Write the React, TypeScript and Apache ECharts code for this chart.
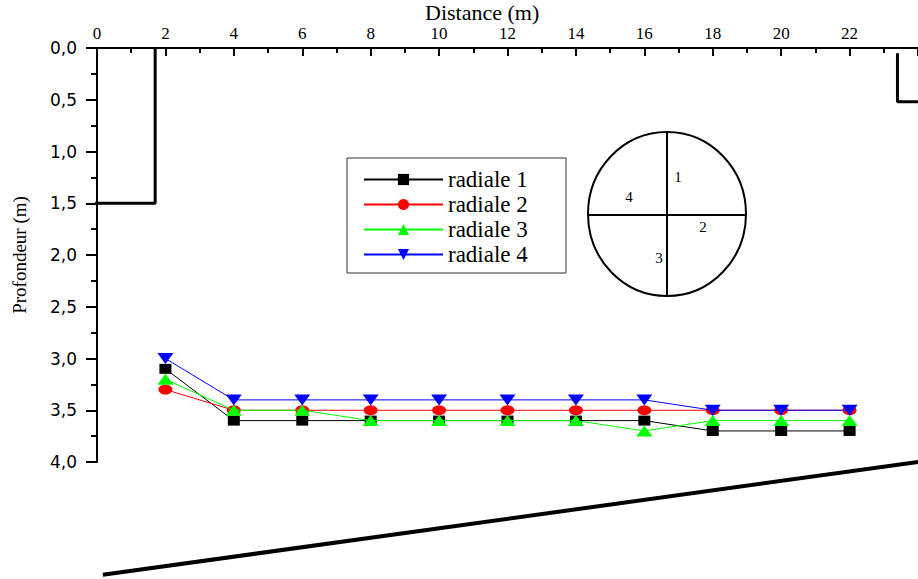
import React, { useEffect, useRef } from "react";
import * as echarts from "echarts";

// Data
const distances = [2, 4, 6, 8, 10, 12, 14, 16, 18, 20, 22];
const radiale1 = [3.1, 3.6, 3.6, 3.6, 3.6, 3.6, 3.6, 3.6, 3.7, 3.7, 3.7];
const radiale2 = [3.3, 3.5, 3.5, 3.5, 3.5, 3.5, 3.5, 3.5, 3.5, 3.5, 3.5];
const radiale3 = [3.2, 3.5, 3.5, 3.6, 3.6, 3.6, 3.6, 3.7, 3.6, 3.6, 3.6];
const radiale4 = [3.0, 3.4, 3.4, 3.4, 3.4, 3.4, 3.4, 3.4, 3.5, 3.5, 3.5];
const seriesNames = ["radiale 1", "radiale 2", "radiale 3", "radiale 4"];

// Outline of the pit (distance, depth)
const leftWall = [[-0.3, 1.5], [1.7, 1.5], [1.7, 0]];
const rightWall = [[23.4, 0.05], [23.4, 0.52], [24.5, 0.52]];
const slopeLine = [[0.17, 5.09], [24, 4.0]];

const serif = "'Liberation Serif', 'Times New Roman', serif";
const sans = "'DejaVu Sans', 'Liberation Sans', Arial, sans-serif";

export default function App() {
  const ref = useRef<HTMLDivElement>(null);
  useEffect(() => {
    document.body.style.margin = "0";
    const chart = echarts.init(ref.current!, null, { renderer: "svg" });
    const mk = (vals: number[]) => distances.map((d, i) => [d, vals[i]]);
    const styles = [
      { color: "#000000", symbol: "rect", size: [12, 10] },
      { color: "#ff0000", symbol: "circle", size: [14, 10] },
      { color: "#00ff00", symbol: "triangle", size: [16, 11] },
      { color: "#0000ff", symbol: "path://M0,0 L10,0 L5,7 Z", size: [16, 11] },
    ];
    const values = [radiale1, radiale2, radiale3, radiale4];
    const dataSeries = values.map((v, i) => ({
      name: seriesNames[i],
      type: "line",
      data: mk(v),
      symbol: styles[i].symbol,
      symbolSize: styles[i].size,
      lineStyle: { width: 1, color: styles[i].color },
      itemStyle: { color: styles[i].color },
      z: 3 + i,
    }));
    const wall = (data: number[][], w: number) => ({
      name: "contour",
      type: "line",
      data,
      symbol: "none",
      clip: false,
      silent: true,
      lineStyle: { width: w, color: "#000" },
      z: 2,
    });
    chart.setOption({
      animation: false,
      title: {
        text: "Distance (m)",
        left: 425,
        top: 1,
        padding: 0,
        textStyle: { fontFamily: serif, fontSize: 22, fontWeight: "normal", color: "#000", lineHeight: 22 },
      },
      grid: { left: 97, top: 48, right: -6, bottom: 117, containLabel: false },
      legend: {
        data: seriesNames,
        orient: "vertical",
        left: 347,
        top: 158,
        padding: [10, 18, 7, 16],
        itemWidth: 79,
        itemHeight: 14,
        itemGap: 2,
        borderColor: "#333",
        borderWidth: 1,
        borderRadius: 0,
        textStyle: { fontFamily: serif, fontSize: 23, color: "#000", lineHeight: 22, width: 100 },
      },
      xAxis: {
        type: "value",
        position: "top",
        min: 0,
        max: 24,
        interval: 2,
        splitLine: { show: false },
        axisLine: { show: true, lineStyle: { color: "#000", width: 2 } },
        axisTick: { show: true, inside: true, length: 8, lineStyle: { color: "#000", width: 2 } },
        minorTick: { show: true, splitNumber: 2, length: 5, lineStyle: { color: "#000", width: 2 } },
        axisLabel: {
          margin: 6,
          showMaxLabel: false,
          fontFamily: serif,
          fontSize: 17,
          lineHeight: 17,
          color: "#000",
          formatter: (v: number) => (v > 22 ? "" : String(v)),
        },
      },
      yAxis: {
        type: "value",
        inverse: true,
        min: 0,
        max: 4,
        interval: 0.5,
        name: "Profondeur (m)",
        nameLocation: "middle",
        nameGap: 68,
        nameRotate: 90,
        nameTextStyle: { fontFamily: serif, fontSize: 19, color: "#000" },
        splitLine: { show: false },
        axisLine: { show: true, lineStyle: { color: "#000", width: 2 } },
        axisTick: { show: true, inside: false, length: 11, lineStyle: { color: "#000", width: 2 } },
        minorTick: { show: true, splitNumber: 2, length: 6, lineStyle: { color: "#000", width: 2 } },
        axisLabel: {
          margin: 20,
          fontFamily: sans,
          fontSize: 17,
          color: "#000",
          formatter: (v: number) => v.toFixed(1).replace(".", ","),
        },
      },
      graphic: [
        {
          type: "group",
          children: [
            { type: "ellipse", shape: { cx: 667, cy: 214, rx: 79, ry: 82 }, style: { fill: "none", stroke: "#000", lineWidth: 2 } },
            { type: "line", shape: { x1: 667, y1: 132, x2: 667, y2: 296 }, style: { stroke: "#000", lineWidth: 2 } },
            { type: "line", shape: { x1: 588, y1: 215, x2: 746, y2: 215 }, style: { stroke: "#000", lineWidth: 2 } },
            { type: "text", x: 678, y: 177, style: { text: "1", font: `15px ${serif}`, fill: "#000", align: "center", verticalAlign: "middle" } },
            { type: "text", x: 629, y: 197, style: { text: "4", font: `15px ${serif}`, fill: "#000", align: "center", verticalAlign: "middle" } },
            { type: "text", x: 703, y: 227, style: { text: "2", font: `15px ${serif}`, fill: "#000", align: "center", verticalAlign: "middle" } },
            { type: "text", x: 659, y: 258, style: { text: "3", font: `15px ${serif}`, fill: "#000", align: "center", verticalAlign: "middle" } },
          ],
        },
      ],
      series: [wall(leftWall, 3), wall(rightWall, 3), wall(slopeLine, 4), ...dataSeries],
    });
    return () => chart.dispose();
  }, []);
  return (
    <div
      ref={ref}
      style={{ position: "absolute", left: 0, top: 0, width: 918, height: 579, overflow: "hidden" }}
    />
  );
}
